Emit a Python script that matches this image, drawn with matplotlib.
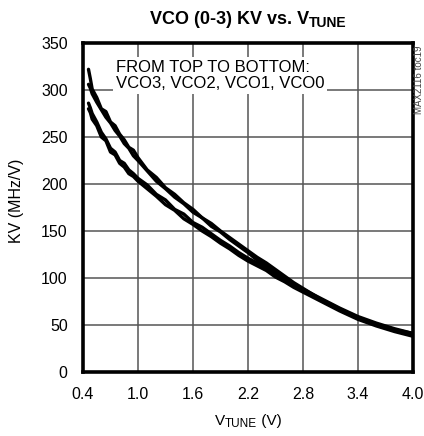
import matplotlib
matplotlib.use("Agg")
import matplotlib.pyplot as plt

# ---- data ----
vtune = [0.46, 0.48, 0.50, 0.55, 0.60, 0.65, 0.70, 0.75, 0.80, 0.85, 0.90, 0.95,
         1.00, 1.10, 1.20, 1.30, 1.40, 1.50, 1.60, 1.70, 1.80, 1.90, 2.00, 2.10,
         2.20, 2.30, 2.40, 2.50, 2.60, 2.70, 2.80, 3.00, 3.20, 3.40, 3.60, 3.80, 4.00]
vco3 = [322, 312, 301, 292, 280, 277, 266, 262, 253, 247, 239, 236,
        228, 215, 207, 196, 189, 180, 173, 164, 158, 150, 143, 136,
        129, 122, 116, 109, 102, 95, 89, 77, 67, 58, 51, 45, 41]
vco2 = [306, 302, 296, 287, 279, 271, 265, 257, 251, 243, 238, 230,
        225, 214, 203, 195, 186, 179, 170, 164, 155, 149, 141, 134,
        127, 119, 113, 106, 100, 93, 87, 76, 66, 57, 50, 44, 39]
vco1 = [286, 281, 275, 266, 255, 248, 238, 234, 225, 222, 215, 211,
        206, 199, 189, 183, 173, 168, 159, 154, 147, 140, 134, 127,
        121, 116, 111, 104, 99, 93, 88, 78, 68, 59, 52, 46, 41]
vco0 = [280, 276, 269, 262, 250, 246, 234, 231, 222, 218, 211, 208,
        203, 195, 187, 178, 172, 163, 157, 150, 144, 137, 131, 124,
        118, 113, 108, 101, 96, 90, 85, 75, 65, 56, 49, 43, 38]
series = {"VCO3": vco3, "VCO2": vco2, "VCO1": vco1, "VCO0": vco0}

xticks = [0.4, 1.0, 1.6, 2.2, 2.8, 3.4, 4.0]
xticklabels = ["0.4", "1.0", "1.6", "2.2", "2.8", "3.4", "4.0"]
yticks = [0, 50, 100, 150, 200, 250, 300, 350]

FONTS = ["Liberation Sans Narrow", "Liberation Sans", "DejaVu Sans"]
plt.rcParams["font.family"] = FONTS

W, H = 424, 436
fig = plt.figure(figsize=(W / 100, H / 100), dpi=100)
ax = fig.add_axes([83 / W, 1 - 372 / H, 330 / W, 329 / H])

for name, vals in series.items():
    ax.plot(vtune, vals, color="black", lw=2.4, solid_joinstyle="round",
            solid_capstyle="round", zorder=3)

ax.set_xlim(0.4, 4.0)
ax.set_ylim(0, 350)
ax.set_xticks(xticks)
ax.set_xticklabels(xticklabels)
ax.set_yticks(yticks)
ax.tick_params(length=0, labelsize=11.5, pad=11)
ax.grid(True, color="#555555", lw=1.1, zorder=1)
for s in ax.spines.values():
    s.set_linewidth(2.6)
    s.set_zorder(5)

ax.set_ylabel("KV (MHz/V)", fontsize=11.5)
ax.yaxis.set_label_coords(-0.18, 0.52)

ax.text(0.1, 0.948, "FROM TOP TO BOTTOM:\nVCO3, VCO2, VCO1, VCO0", transform=ax.transAxes,
        ha="left", va="top", fontsize=12, linespacing=1.05, zorder=4,
        bbox=dict(facecolor="white", edgecolor="none", pad=2))

fig.text(419 / W, 1 - 45 / H, "MAX2116 toc19", rotation=90, ha="center", va="top",
         fontsize=7, color="#444444")


def compound(parts, xc, y, weight="normal"):
    texts = []
    for s, size, dy in parts:
        t = fig.text(0, y, s, fontsize=size, fontweight=weight, ha="left", va="baseline")
        texts.append((t, dy))
    fig.canvas.draw()
    r = fig.canvas.get_renderer()
    widths = [t.get_window_extent(r).width for t, _ in texts]
    total = sum(widths)
    x = xc * W - total / 2
    for (t, dy), w in zip(texts, widths):
        t.set_position((x / W, y - dy / H))
        x += w


compound([("VCO (0-3) KV vs. V", 13, 0), ("TUNE", 10, 3)], 248 / W, 1 - 24 / H, weight="bold")
compound([("V", 11, 0), ("TUNE", 8.5, 2), (" (V)", 11, 0)], 248 / W, 1 - 425 / H)

fig.savefig("out.png", dpi=100)
